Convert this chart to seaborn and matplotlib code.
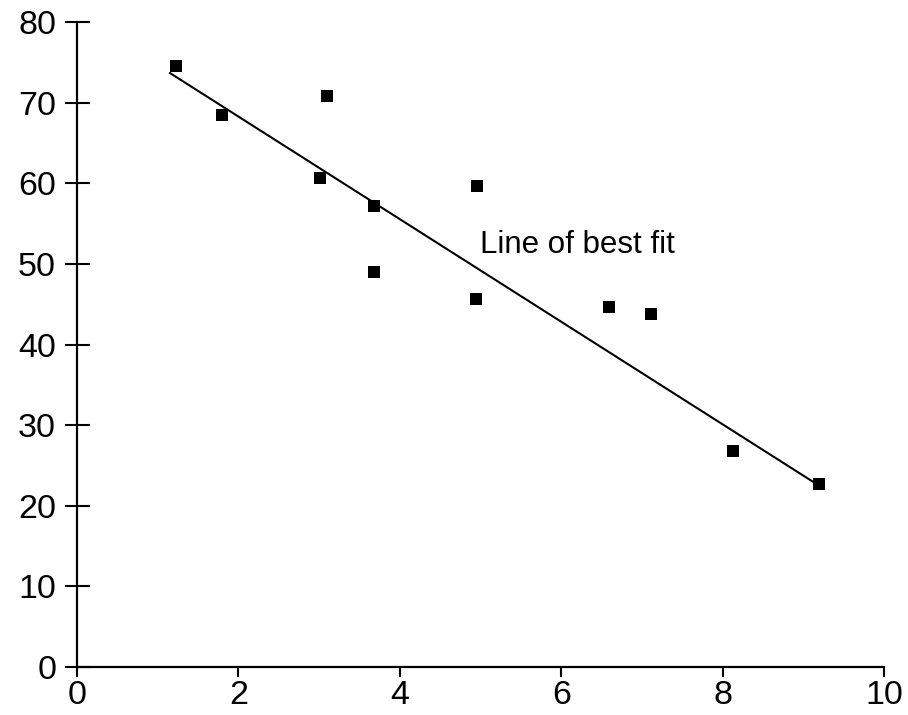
import matplotlib
matplotlib.use("Agg")
import matplotlib.pyplot as plt
import seaborn as sns
import pandas as pd

x_vals = [1.23, 1.80, 3.10, 3.01, 3.68, 3.68, 4.96, 4.94, 6.59, 7.11, 8.13, 9.19]
y_vals = [74.6, 68.5, 70.8, 60.7, 57.2, 49.0, 59.7, 45.7, 44.7, 43.8, 26.8, 22.7]
fit_x = [1.15, 9.18]
fit_y = [73.7, 22.6]
x_ticks = [0, 2, 4, 6, 8, 10]
y_ticks = [0, 10, 20, 30, 40, 50, 60, 70, 80]
label_text = "Line of best fit"

sns.set_theme(style="ticks")
plt.rcParams['font.family'] = ['Liberation Sans', 'DejaVu Sans']

fig = plt.figure(figsize=(9.08, 7.15), dpi=100)
ax = fig.add_axes([0.0848, 0.0671, 0.9736 - 0.0848, 0.969 - 0.0671])

df = pd.DataFrame({"x": x_vals, "y": y_vals})
fit = pd.DataFrame({"x": fit_x, "y": fit_y})

sns.lineplot(data=fit, x="x", y="y", ax=ax, color="black", linewidth=1.5)
sns.scatterplot(data=df, x="x", y="y", ax=ax, marker="s", s=85, color="black",
                edgecolor="black", linewidth=0, zorder=3)

ax.text(4.99, 52.3, label_text, fontsize=22.5, color="black", ha="left", va="center")

ax.set_xlim(0, 10)
ax.set_ylim(0, 80)
ax.set_xticks(x_ticks)
ax.set_yticks(y_ticks)
ax.set_xlabel("")
ax.set_ylabel("")
for s in ["top", "right"]:
    ax.spines[s].set_visible(False)
for s in ["left", "bottom"]:
    ax.spines[s].set_color("black")
    ax.spines[s].set_linewidth(1.6)
ax.tick_params(axis="y", direction="inout", length=18, width=1.5, colors="black",
               labelsize=24.5, pad=6)
ax.tick_params(axis="x", direction="out", length=7.5, width=1.5, colors="black",
               labelsize=24.5, pad=2)
ax.set_facecolor("white")
fig.patch.set_facecolor("white")

fig.savefig("out.png", dpi=100)
